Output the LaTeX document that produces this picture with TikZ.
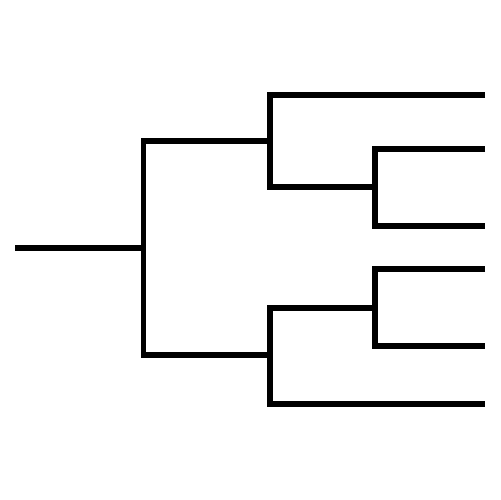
\documentclass[tikz,border=0pt]{standalone}
\begin{document}
\begin{tikzpicture}[x=0.02cm,y=-0.02cm,
  br/.style={line width=3.4pt,line join=miter,line cap=butt,black}]
\useasboundingbox[fill=white] (0,0) rectangle (500,500);
% named points
\coordinate (root) at (15,248);
\coordinate (j1) at (143.5,248);
\coordinate (a1) at (143.5,141);
\coordinate (b1) at (143.5,355);
% upper subtree
\coordinate (a2) at (270,141);
\coordinate (ua) at (270,95);
\coordinate (ub) at (270,187);
\coordinate (l1) at (485,95);
\coordinate (uc) at (375,187);
\coordinate (ud) at (375,149);
\coordinate (ue) at (375,226);
\coordinate (l2) at (485,149);
\coordinate (l3) at (485,226);
% lower subtree
\coordinate (b2) at (270,355);
\coordinate (la) at (270,308);
\coordinate (lb) at (270,404);
\coordinate (l6) at (485,404);
\coordinate (lc) at (375,308);
\coordinate (ld) at (375,269);
\coordinate (le) at (375,346);
\coordinate (l4) at (485,269);
\coordinate (l5) at (485,346);
% drawing
\draw[br] (root) -- (j1);
\draw[br] (a2) -- (a1) -- (b1) -- (b2);
\draw[br] (l1) -- (ua) -- (ub) -- (uc);
\draw[br] (l2) -- (ud) -- (ue) -- (l3);
\draw[br] (lc) -- (la) -- (lb) -- (l6);
\draw[br] (l4) -- (ld) -- (le) -- (l5);
\end{tikzpicture}
\end{document}
